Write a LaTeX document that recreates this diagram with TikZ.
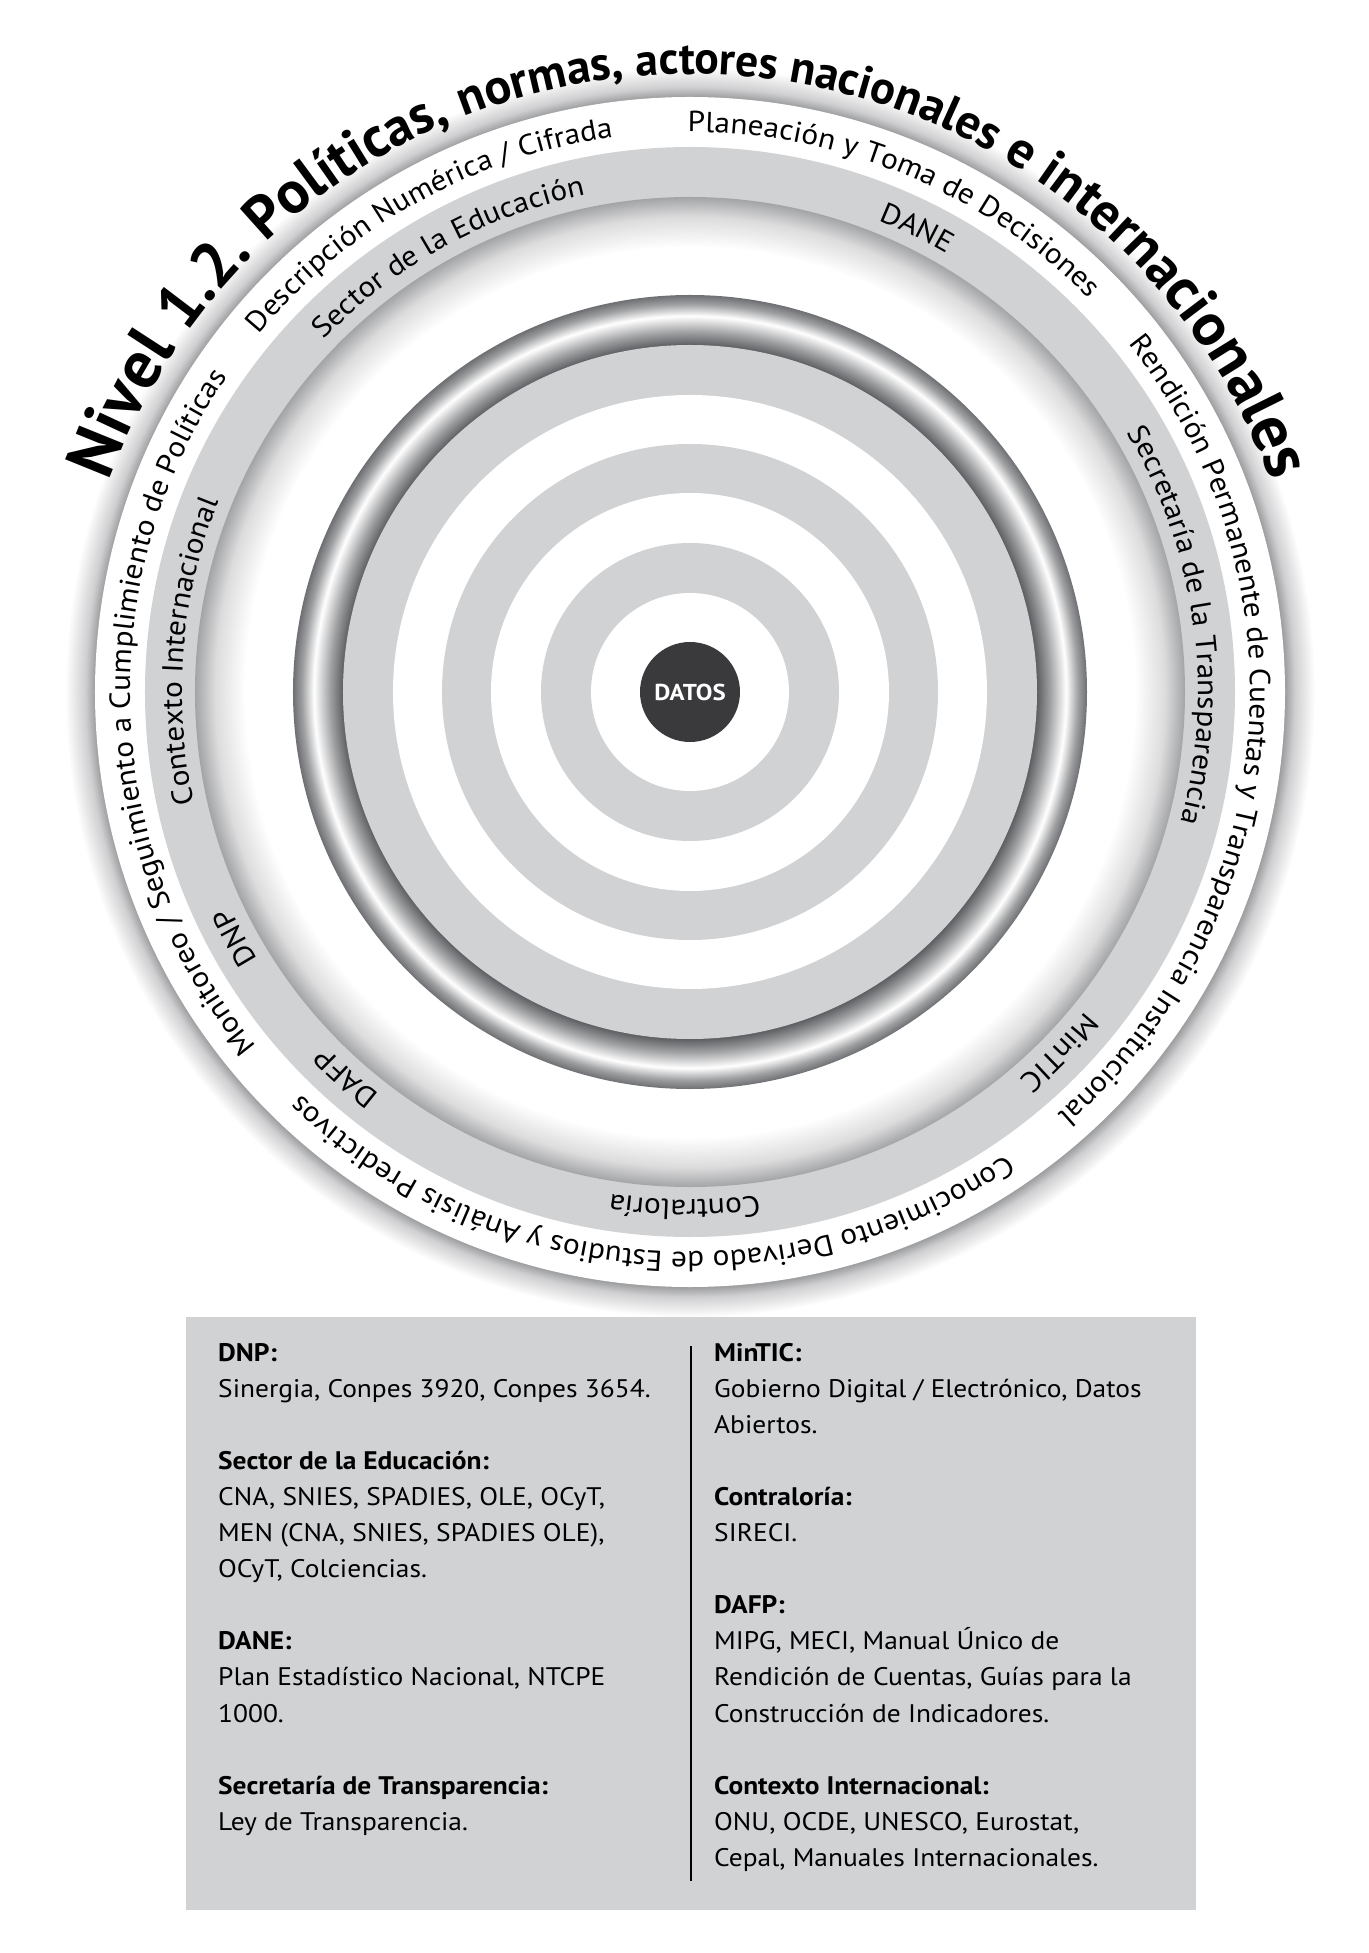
\documentclass[tikz,border=0pt]{standalone}
\usepackage{fontspec}
\setmainfont{PT Sans}[FakeStretch=1.08]
\newfontfamily\titlefam{PT Sans}
\usetikzlibrary{decorations.text}
\definecolor{bandgray}{HTML}{D1D2D4}
\definecolor{datosdark}{HTML}{3A3A3C}
\definecolor{shA}{HTML}{9C9D9F}
\definecolor{shB}{HTML}{CFCFD1}
\definecolor{inA}{HTML}{A3A4A6}
\definecolor{inB}{HTML}{DCDCDD}
\definecolor{tubeIn}{HTML}{5E5F62}
\definecolor{tubeMid}{HTML}{A0A1A3}
\definecolor{tubeOut}{HTML}{6E6F72}
\definecolor{tubeOut2}{HTML}{9FA0A2}
% outer shadow, circle r=630: 595->23.61, 605->24.01, 625->24.80
\pgfdeclareradialshading{outshadow}{\pgfpointorigin}{color(0bp)=(shA); color(23.61bp)=(shA); color(24.0bp)=(shB); color(24.8bp)=(white); color(50bp)=(white)}
% inner shadow, circle r=495: 445->22.47, 475->23.99
\pgfdeclareradialshading{inshadow}{\pgfpointorigin}{color(0bp)=(white); color(22.47bp)=(white); color(23.99bp)=(inB); color(25bp)=(inA); color(50bp)=(inA)}
% tube, circle r=397: 347->21.85, 360->22.67, 376->23.68, 388->24.43
\pgfdeclareradialshading{tube}{\pgfpointorigin}{color(0bp)=(tubeIn); color(21.85bp)=(tubeIn); color(22.67bp)=(tubeMid); color(23.68bp)=(white); color(24.43bp)=(tubeOut2); color(25bp)=(tubeOut); color(50bp)=(tubeOut)}
\newcommand\arctext[4]{% radius, centre angle, font, text
  \path[decorate,decoration={text along path,text align=center,text={|#3|#4}}]
    ({#2+90}:#1) arc[start angle={#2+90},end angle={#2-90},radius=#1];}
\newcommand\ringfont{\fontsize{29}{30}\selectfont}
\newcommand\ttlsz[1]{\titlefam\bfseries\fontsize{#1}{#1}\selectfont}
\begin{document}
\begin{tikzpicture}[x=1pt,y=1pt,
  boxtxt/.style={anchor=base west,inner sep=0pt,font=\fontsize{25.4}{28}\selectfont},
  boxhead/.style={boxtxt,font=\bfseries\fontsize{25.4}{28}\selectfont}]
\useasboundingbox (-690,-1261) rectangle (678,692);
\fill[white] (-690,-1261) rectangle (678,692);
% rings
\shade[shading=outshadow] (0,0) circle[radius=630];
\fill[white] (0,0) circle[radius=595];
\fill[bandgray] (0,0) circle[radius=545];
\shade[shading=inshadow] (0,0) circle[radius=495];
\shade[shading=tube] (0,0) circle[radius=397];
\fill[bandgray] (0,0) circle[radius=347];
\fill[white] (0,0) circle[radius=297];
\fill[bandgray] (0,0) circle[radius=248];
\fill[white] (0,0) circle[radius=199];
\fill[bandgray] (0,0) circle[radius=149];
\fill[white] (0,0) circle[radius=99];
\node[circle,fill=datosdark,minimum size=100pt,inner sep=0pt,text=white,font=\bfseries\fontsize{23}{23}\selectfont] (datos) at (0,0) {DATOS};
% title
\arctext{618}{90}{\ttlsz{68}}{Nivel |\ttlsz{64}|1.2. |\ttlsz{60}|Pol|\ttlsz{57}|ític|\ttlsz{54}|as, |\ttlsz{50}|nor|\ttlsz{48}|mas, |\ttlsz{45.5}|actores |\ttlsz{46.5}|nacio|\ttlsz{48.5}|nales |\ttlsz{52}|e |\ttlsz{54}|inte|\ttlsz{57}|rna|\ttlsz{60}|cio|\ttlsz{63}|nal|\ttlsz{66}|es}
% outer band
\arctext{560}{119.1}{\ringfont}{Descripción Numérica / Cifrada}
\arctext{560}{67.4}{\ringfont}{Planeación y Toma de Decisiones}
\arctext{560}{-5.2}{\ringfont}{Rendición Permanente de Cuentas y Transparencia Institucional}
\arctext{560}{-94.8}{\ringfont}{Conocimiento Derivado de Estudios y Análisis Predictivos}
\arctext{560}{182.5}{\ringfont}{Monitoreo / Seguimiento a Cumplimiento de Políticas}
% gray band
\arctext{508}{119}{\ringfont}{Sector de la Educación}
\arctext{508}{63.9}{\ringfont}{DANE}
\arctext{508}{7.9}{\ringfont}{Secretaría de la Transparencia}
\arctext{508}{-44.3}{\ringfont}{MinTIC}
\arctext{508}{-90.6}{\ringfont}{Contraloría}
\arctext{508}{-131.7}{\ringfont}{DAFP}
\arctext{508}{-151.6}{\ringfont}{DNP}
\arctext{508}{175.3}{\ringfont}{Contexto Internacional}
% box
\fill[bandgray] (-504,-625) rectangle (506,-1218);
\draw[line width=2.5pt] (1,-654) -- (1,-1189);
\node[boxhead] (l0) at (-472,{-669-0*36.1}) {DNP:};
\node[boxtxt] (l1) at (-472,{-669-1*36.1}) {Sinergia, Conpes 3920, Conpes 3654.};
\node[boxhead] (l3) at (-472,{-669-3*36.1}) {Sector de la Educación:};
\node[boxtxt] (l4) at (-472,{-669-4*36.1}) {CNA, SNIES, SPADIES, OLE, OCyT,};
\node[boxtxt] (l5) at (-472,{-669-5*36.1}) {MEN (CNA, SNIES, SPADIES OLE),};
\node[boxtxt] (l6) at (-472,{-669-6*36.1}) {OCyT, Colciencias.};
\node[boxhead] (l8) at (-472,{-669-8*36.1}) {DANE:};
\node[boxtxt] (l9) at (-472,{-669-9*36.1}) {Plan Estadístico Nacional, NTCPE};
\node[boxtxt] (l10) at (-472,{-669-10*36.1}) {1000.};
\node[boxhead] (l12) at (-472,{-669-12*36.1}) {Secretaría de Transparencia:};
\node[boxtxt] (l13) at (-472,{-669-13*36.1}) {Ley de Transparencia.};
\node[boxhead] (r0) at (24,{-669-0*36.1}) {MinTIC:};
\node[boxtxt] (r1) at (24,{-669-1*36.1}) {Gobierno Digital / Electrónico, Datos};
\node[boxtxt] (r2) at (24,{-669-2*36.1}) {Abiertos.};
\node[boxhead] (r4) at (24,{-669-4*36.1}) {Contraloría:};
\node[boxtxt] (r5) at (24,{-669-5*36.1}) {SIRECI.};
\node[boxhead] (r7) at (24,{-669-7*36.1}) {DAFP:};
\node[boxtxt] (r8) at (24,{-669-8*36.1}) {MIPG, MECI, Manual Único de};
\node[boxtxt] (r9) at (24,{-669-9*36.1}) {Rendición de Cuentas, Guías para la};
\node[boxtxt] (r10) at (24,{-669-10*36.1}) {Construcción de Indicadores.};
\node[boxhead] (r12) at (24,{-669-12*36.1}) {Contexto Internacional:};
\node[boxtxt] (r13) at (24,{-669-13*36.1}) {ONU, OCDE, UNESCO, Eurostat,};
\node[boxtxt] (r14) at (24,{-669-14*36.1}) {Cepal, Manuales Internacionales.};
\end{tikzpicture}
\end{document}
